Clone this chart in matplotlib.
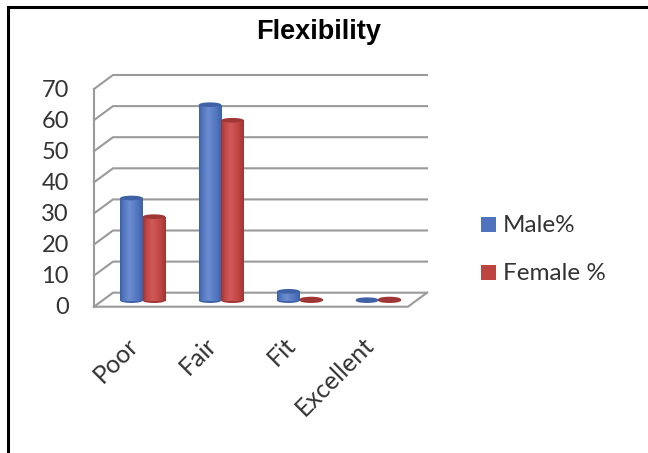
import numpy as np
import matplotlib
matplotlib.use('Agg')
import matplotlib.pyplot as plt
from matplotlib.patches import Ellipse, Rectangle
from matplotlib.colors import LinearSegmentedColormap

categories = ['Poor', 'Fair', 'Fit', 'Excellent']
male = [33, 63, 3, 0.3]
female = [27, 58, 0.5, 0.5]
yticks = [0, 10, 20, 30, 40, 50, 60, 70]

W, H = 648, 453
# front plane of the 3d box, pixels
left, right, top, bottom = 94, 408, 89, 306.7
# depth of the box in data units
depth_x = 19 / 78.5
depth_y = 4.5
bar_w = 22.5 / 78.5
grid_col = '#9a9a9a'

fig = plt.figure(figsize=(W / 100, H / 100), dpi=100)
ax = fig.add_axes([left / W, 1 - bottom / H, (right - left) / W, (bottom - top) / H])
ax.set_xlim(-0.5, 3.5)
ax.set_ylim(0, 70)
ax.axis('off')

# walls and floor
x0, x1 = -0.5, 3.5
for v in yticks:
    ax.plot([x0, x0 + depth_x, x1 + depth_x], [v, v + depth_y, v + depth_y],
            color=grid_col, lw=1.5, clip_on=False, zorder=1)
ax.plot([x0, x0], [0, 70], color=grid_col, lw=1.5, clip_on=False, zorder=1)
ax.plot([x0, x1, x1 + depth_x], [0, 0, depth_y], color=grid_col, lw=1.5, clip_on=False, zorder=1)


def draw_bar(cx, val, dark, mid, light, cap):
    base = depth_y / 2 - 0.3
    cm = LinearSegmentedColormap.from_list('c', [(0, dark), (0.12, mid), (0.4, light), (0.8, mid), (1, dark)])
    body = Rectangle((cx - bar_w / 2, base), bar_w, val, fc=mid, ec='none', zorder=3, clip_on=False)
    foot = Ellipse((cx, base), bar_w, 1.5, fc=dark, ec='none', zorder=2.9, clip_on=False)
    ax.add_patch(foot)
    ax.add_patch(body)
    grad = np.linspace(0, 1, 32).reshape(1, -1)
    im = ax.imshow(grad, extent=(cx - bar_w / 2, cx + bar_w / 2, base, base + val), aspect='auto',
                   cmap=cm, zorder=3.1, clip_on=True, interpolation='bilinear')
    im.set_clip_path(body)
    ax.add_patch(Ellipse((cx, base + val), bar_w, 1.5, fc=cap, ec='none', zorder=3.2, clip_on=False))


for i in range(len(categories)):
    cx = i + depth_x / 2
    draw_bar(cx - bar_w / 2, male[i], '#3f62a6', '#4f74bd', '#6c8dd0', '#3f62a6')
    draw_bar(cx + bar_w / 2, female[i], '#9c3633', '#bd4441', '#d2595a', '#a03734')
ax.set_xlim(-0.5, 3.5)
ax.set_ylim(0, 70)

# tick labels
for v in yticks:
    ax.annotate(str(v), (x0, v), xytext=(-18, -0.8), textcoords='offset points', ha='right', va='center',
                fontsize=17, family='Lato', color='#333333', annotation_clip=False)
for i, c in enumerate(categories):
    ax.annotate(c, (i + 0.02, 0), xytext=(-6, -19), textcoords='offset points', ha='right', va='top',
                rotation=45, rotation_mode='anchor', fontsize=18, family='Lato', color='#333333',
                annotation_clip=False)

# legend
for y, col, lab in [(224, '#4f74bd', 'Male%'), (272, '#bd4441', 'Female %')]:
    fig.patches.append(Rectangle((481 / W, 1 - (y + 8) / H), 15 / W, 15 / H, transform=fig.transFigure,
                                 fc=col, ec='none'))
    fig.text(503 / W, 1 - (y + 1) / H, lab, fontsize=17.5, family='Lato', color='#333333', va='center')

fig.text(319 / W, 1 - 32 / H, 'Flexibility', fontsize=19.5, fontweight='bold', family='Liberation Sans',
         ha='center', va='center', color='black')

# black frame, only top and left
fig.add_artist(plt.Line2D([1, 8 / W, 8 / W], [1 - 7 / H, 1 - 7 / H, 0], transform=fig.transFigure,
                          color='black', lw=2.2, solid_joinstyle='miter'))

fig.savefig('out.png', dpi=100)
